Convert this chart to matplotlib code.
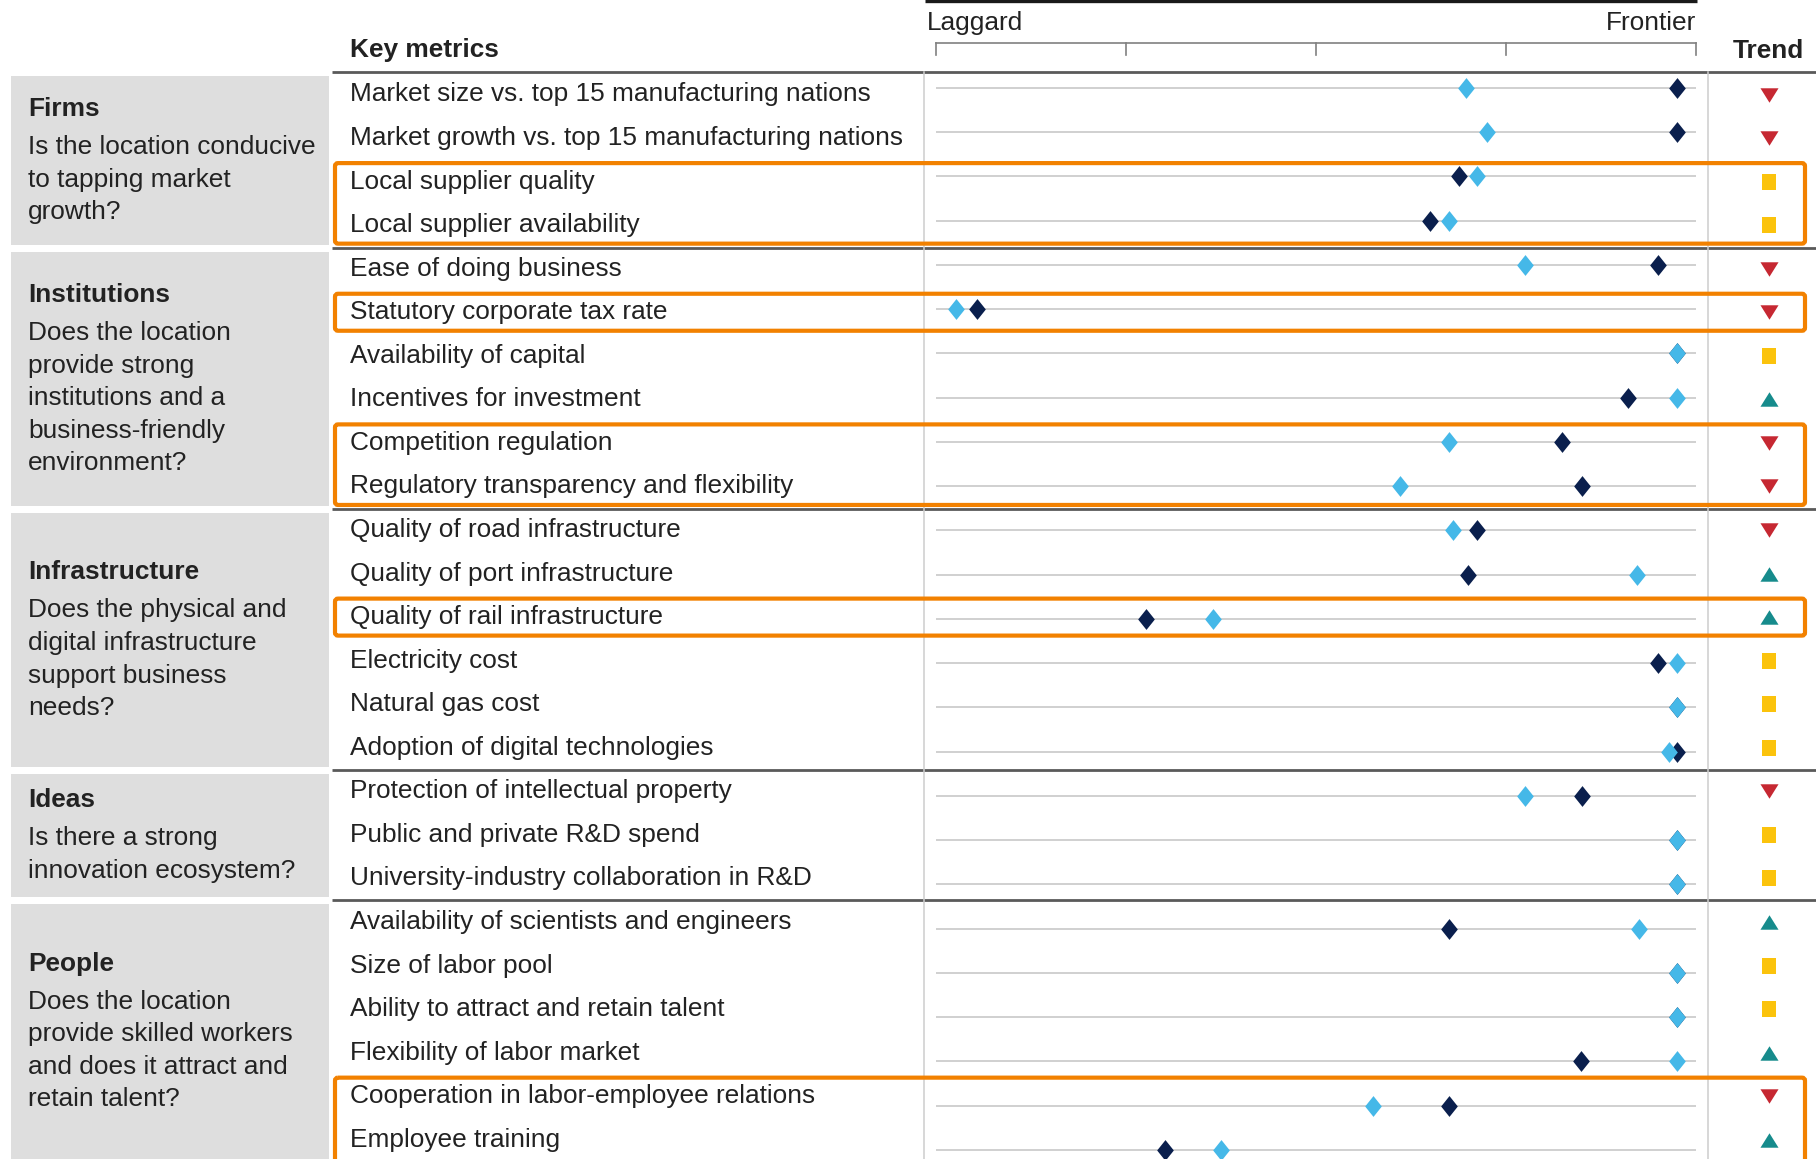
import matplotlib
matplotlib.use("Agg")
import matplotlib.pyplot as plt
from matplotlib.path import Path
from matplotlib.patches import FancyBboxPatch, Rectangle
from matplotlib.transforms import blended_transform_factory

plt.rcParams['font.family'] = ['Liberation Sans', 'DejaVu Sans']

# ---------------------------------------------------------------- data
groups = ["Firms", "Institutions", "Infrastructure", "Ideas", "People"]
group_questions = [
    ["Is the location conducive", "to tapping market", "growth?"],
    ["Does the location", "provide strong", "institutions and a",
     "business-friendly", "environment?"],
    ["Does the physical and", "digital infrastructure", "support business",
     "needs?"],
    ["Is there a strong", "innovation ecosystem?"],
    ["Does the location", "provide skilled workers", "and does it attract and",
     "retain talent?"],
]
group_sizes = [4, 6, 6, 3, 6]

metrics = [
    "Market size vs. top 15 manufacturing nations",
    "Market growth vs. top 15 manufacturing nations",
    "Local supplier quality",
    "Local supplier availability",
    "Ease of doing business",
    "Statutory corporate tax rate",
    "Availability of capital",
    "Incentives for investment",
    "Competition regulation",
    "Regulatory transparency and flexibility",
    "Quality of road infrastructure",
    "Quality of port infrastructure",
    "Quality of rail infrastructure",
    "Electricity cost",
    "Natural gas cost",
    "Adoption of digital technologies",
    "Protection of intellectual property",
    "Public and private R&D spend",
    "University-industry collaboration in R&D",
    "Availability of scientists and engineers",
    "Size of labor pool",
    "Ability to attract and retain talent",
    "Flexibility of labor market",
    "Cooperation in labor-employee relations",
    "Employee training",
]

# position on the laggard (0) to frontier (100) scale
navy_scores = [97.5, 97.5, 68.8, 65.0, 95.0, 5.4, 97.5, 91.1, 82.4, 85.0,
               71.2, 70.0, 27.6, 95.0, 97.5, 97.5, 85.0, 97.5, 97.5, 67.5,
               97.5, 97.5, 84.9, 67.5, 30.1]
sky_scores = [69.8, 72.5, 71.2, 67.5, 77.5, 2.6, 97.5, 97.5, 67.5, 61.1,
              68.0, 92.3, 36.4, 97.5, 97.5, 96.4, 77.5, 97.5, 97.5, 92.5,
              97.5, 97.5, 97.5, 57.5, 37.5]

trends = ["down", "down", "flat", "flat", "down", "down", "flat", "up",
          "down", "down", "down", "up", "up", "flat", "flat", "flat",
          "down", "flat", "flat", "up", "flat", "flat", "up", "down", "up"]

scale_ticks = [0, 25, 50, 75, 100]
scale_labels = ["Laggard", "Frontier"]

# blocks of rows outlined in orange (first row, last row)
highlight_blocks = [(2, 3), (5, 5), (8, 9), (12, 12), (23, 24)]

# ---------------------------------------------------------------- style
W, H = 1816, 1159
TEXT = "#222222"
NAVY = "#0a1f4d"
SKY = "#45b8e8"
ORANGE = "#f28100"
PANEL = "#dedede"
RULE = "#5a5a5a"
LIGHT = "#cdcdcd"
trend_style = {
    "down": ("#c62832", Path([(-1, 0.8), (1, 0.8), (0, -0.8), (-1, 0.8)]), 13.0),
    "up": ("#168b8c", Path([(-1, -0.8), (1, -0.8), (0, 0.8), (-1, -0.8)]), 13.0),
    "flat": ("#fbc30c", Path([(-0.85, -1), (0.85, -1), (0.85, 1),
                              (-0.85, 1), (-0.85, -1)]), 12.0),
}
diamond = Path([(0, 1), (0.8, 0), (0, -1), (-0.8, 0), (0, 1)])
FS = 18.9

# row geometry (pixels)
TEXT_Y0, TEXT_DY = 94.5, 43.55
DOT_Y0, DOT_DY = 88.0, 44.24
PLOT_X0, PLOT_W = 936.0, 760.0
LABEL_X = 350
separators = [72, 248, 509, 770, 900, H + 3]


def text_y(i):
    return TEXT_Y0 + TEXT_DY * i


fig = plt.figure(figsize=(W / 100, H / 100), dpi=100)
fig.patch.set_facecolor("white")

canvas = fig.add_axes([0, 0, 1, 1])
canvas.set_xlim(0, W)
canvas.set_ylim(H, 0)
canvas.axis("off")

# group panels on the left
for g, name in enumerate(groups):
    top, bottom = separators[g] + 4, separators[g + 1] - 3
    canvas.add_patch(Rectangle((11, top), 318, bottom - top,
                               facecolor=PANEL, edgecolor="none"))
    lines = group_questions[g]
    block = 38.5 + 32.5 * (len(lines) - 1)
    y0 = (top + bottom) / 2 - block / 2
    canvas.text(28, y0, name, fontsize=FS, fontweight="bold", color=TEXT,
                va="center", ha="left")
    for k, line in enumerate(lines):
        canvas.text(28, y0 + 38.5 + 32.5 * k, line, fontsize=FS,
                    color=TEXT, va="center", ha="left")

# horizontal rules between groups
for y in separators[:-1]:
    canvas.plot([332, W], [y, y], color=RULE, lw=2.0, solid_capstyle="butt")

# vertical column dividers
for x in (924, 1708):
    canvas.plot([x, x], [72, H], color=LIGHT, lw=1.1)

# header text
canvas.text(LABEL_X, 50, "Key metrics", fontsize=FS, fontweight="bold",
            color=TEXT, va="center", ha="left")
canvas.text(1768, 51, "Trend", fontsize=FS, fontweight="bold",
            color=TEXT, va="center", ha="center")

# metric labels
for i, label in enumerate(metrics):
    canvas.text(LABEL_X, text_y(i), label, fontsize=FS, color=TEXT,
                va="center", ha="left")

# ---------------------------------------------------------------- dot plot
dot_top = DOT_Y0 - 0.5 * DOT_DY
dot_ax = fig.add_axes([PLOT_X0 / W, 0, PLOT_W / W, (H - dot_top) / H])
dot_ax.set_xlim(0, 100)
dot_ax.set_ylim((H - DOT_Y0) / DOT_DY, -0.5)
dot_ax.axis("off")
rows = list(range(len(metrics)))
dot_ax.hlines(rows, 0, 100.2, color=LIGHT, lw=1.3, zorder=1)
dot_ax.plot(navy_scores, rows, linestyle="none", marker=diamond,
            markersize=15, color=NAVY, markeredgewidth=0, zorder=3,
            clip_on=False)
dot_ax.plot(sky_scores, rows, linestyle="none", marker=diamond,
            markersize=15, color=SKY, markeredgewidth=0, zorder=4,
            clip_on=False)

# laggard-to-frontier scale bracket above the plot
bt = blended_transform_factory(dot_ax.transData, canvas.transData)
canvas.plot([scale_ticks[0], scale_ticks[-1]], [43, 43], color="#808080",
            lw=1.2, transform=bt, clip_on=False)
for t in scale_ticks:
    canvas.plot([t, t], [43, 55], color="#808080", lw=1.2, transform=bt,
                clip_on=False)
canvas.plot([-1.4, 100.1], [1, 1], color="#1a1a1a", lw=2.4, transform=bt,
            clip_on=False, solid_capstyle="butt")
canvas.text(scale_ticks[0] - 1.2, 23, scale_labels[0], fontsize=FS,
            color=TEXT, va="center", ha="left", transform=bt)
canvas.text(scale_ticks[-1], 23, scale_labels[1], fontsize=FS,
            color=TEXT, va="center", ha="right", transform=bt)

# ---------------------------------------------------------------- trend column
tr_top = TEXT_Y0 - 0.5 * TEXT_DY
tr_ax = fig.add_axes([1722 / W, 0, 94 / W, (H - tr_top) / H])
tr_ax.set_xlim(0, 1)
tr_ax.set_ylim((H - TEXT_Y0) / TEXT_DY, -0.5)
tr_ax.axis("off")
for kind, (col, mk, size) in trend_style.items():
    ys = [i for i, t in enumerate(trends) if t == kind]
    tr_ax.plot([0.5] * len(ys), ys, linestyle="none", marker=mk,
               markersize=size, color=col, markeredgewidth=0)

# ---------------------------------------------------------------- highlights
overlay = fig.add_axes([0, 0, 1, 1])
overlay.set_xlim(0, W)
overlay.set_ylim(H, 0)
overlay.axis("off")
overlay.patch.set_alpha(0)
for first, last in highlight_blocks:
    top = text_y(first) - 18.5
    bottom = text_y(last) + 18.5 if last < len(metrics) - 1 else H + 20
    overlay.add_patch(FancyBboxPatch((335, top), 1470, bottom - top,
                                     boxstyle="round,pad=0,rounding_size=3",
                                     facecolor="none", edgecolor=ORANGE,
                                     lw=3.0, clip_on=False))

fig.savefig("out.png", dpi=100, facecolor="white")
